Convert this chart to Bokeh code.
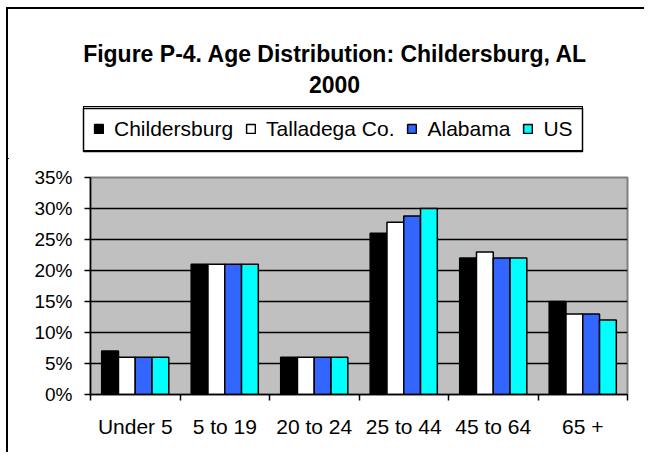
from bokeh.plotting import figure
from bokeh.layouts import column
from bokeh.models import (FixedTicker, Label, Legend, LegendItem, ColumnDataSource,
                          CustomJSTickFormatter, Range1d)
from bokeh.transform import dodge
from bokeh.embed import file_html
from bokeh.resources import INLINE

categories = ["Under 5", "5 to 19", "20 to 24", "25 to 44", "45 to 64", "65 +"]
childersburg = [7, 21, 6, 26, 22, 15]
talladega = [6, 21, 6, 27.8, 23, 13]
alabama = [6, 21, 6, 28.8, 22, 13]
us = [6, 21, 6, 30, 22, 12]
series_names = ["Childersburg", "Talladega Co.", "Alabama", "US"]
series_colors = ["#000000", "#FFFFFF", "#3366FF", "#00FFFF"]
y_ticks = [0, 5, 10, 15, 20, 25, 30, 35]
title_lines = ["Figure P-4. Age Distribution: Childersburg, AL", "2000"]

FONT = "Liberation Sans"
W = 636
TOP_H = 150

centers = [i + 0.5 for i in range(len(categories))]
boundaries = list(range(len(categories) + 1))
source = ColumnDataSource(dict(x=centers, cat=categories, s0=childersburg,
                               s1=talladega, s2=alabama, s3=us))

# ---------------- header (title + legend) ----------------
t = figure(width=W, height=TOP_H, x_range=Range1d(0, W), y_range=Range1d(TOP_H, 0),
           output_backend="svg", toolbar_location=None, title=None,
           x_axis_location=None, y_axis_location=None,
           min_border_left=0, min_border_right=0, min_border_top=0, min_border_bottom=0)
if "frame_align" in t.properties():
    t.frame_align = False
t.grid.visible = False
t.outline_line_color = None
t.background_fill_color = "white"
t.border_fill_color = "white"
# legend proxies live on ranges that keep them off the canvas
t.extra_x_ranges = {"offx": Range1d(1000, 2000)}
t.extra_y_ranges = {"offy": Range1d(1000, 2000)}

for txt, xx, yy in zip(title_lines, [327, 326], [44, 75]):
    t.add_layout(Label(x=xx, y=yy, text=txt, text_align="center",
                       text_baseline="alphabetic", text_font=FONT,
                       text_font_size="23px", text_font_style="bold",
                       text_color="black"))

# legend frame (decoration, in header pixel space)
t.quad(left=[75], right=[574], top=[99], bottom=[142], fill_color="white",
       line_color="black", line_width=1.5)

items = []
for k, (name, col) in enumerate(zip(series_names, series_colors)):
    r = t.vbar(x="x", top="s%d" % k, width=0.2, source=source, fill_color=col,
               line_color="black", line_width=1.5,
               x_range_name="offx", y_range_name="offy")
    items.append(LegendItem(label=name, renderers=[r]))

legend = Legend(items=items, orientation="horizontal", location=(75, 8),
                border_line_color="black", border_line_width=1.5, border_line_alpha=1,
                background_fill_alpha=0,
                padding=9, spacing=12, glyph_width=11, glyph_height=11,
                label_standoff=10, label_height=25, margin=0,
                label_text_font=FONT, label_text_font_size="21px",
                label_text_color="black")
t.add_layout(legend, "center")

# ---------------- main chart ----------------
p = figure(width=W, height=293, x_range=Range1d(0, len(categories)),
           y_range=Range1d(0, 35), output_backend="svg", toolbar_location=None,
           title=None, min_border_left=82, min_border_right=17, min_border_top=18,
           min_border_bottom=58)

p.background_fill_color = "#C0C0C0"
p.border_fill_color = "white"
p.outline_line_color = "#808080"
p.outline_line_width = 2

bw = 0.1875
offsets = [-1.5 * bw, -0.5 * bw, 0.5 * bw, 1.5 * bw]
for k, col in enumerate(series_colors):
    p.vbar(x=dodge("x", offsets[k], range=p.x_range), top="s%d" % k, width=bw,
           source=source, fill_color=col, line_color="black", line_width=1.5)

xa = p.xaxis[0]
xa.ticker = FixedTicker(ticks=centers, minor_ticks=boundaries)
xa.formatter = CustomJSTickFormatter(args=dict(cats=categories),
                                     code="return cats[Math.floor(tick)];")
xa.major_tick_line_color = None
xa.major_tick_out = 6
xa.major_tick_in = 0
xa.minor_tick_in = 0
xa.minor_tick_out = 6
xa.minor_tick_line_color = "black"
xa.minor_tick_line_width = 1.5
xa.axis_line_color = "black"
xa.axis_line_width = 1.5
xa.major_label_standoff = 14
xa.major_label_text_font = FONT
xa.major_label_text_font_size = "21px"
xa.major_label_text_color = "black"

ya = p.yaxis[0]
ya.ticker = FixedTicker(ticks=y_ticks)
ya.formatter = CustomJSTickFormatter(code="return tick + '%';")
ya.minor_tick_line_color = None
ya.major_tick_in = 0
ya.major_tick_out = 6
ya.major_tick_line_color = "black"
ya.major_tick_line_width = 1.5
ya.axis_line_color = "black"
ya.axis_line_width = 1.5
ya.major_label_standoff = 12
ya.major_label_text_font = FONT
ya.major_label_text_font_size = "19px"
ya.major_label_text_color = "black"

p.xgrid.visible = False
p.ygrid.ticker = FixedTicker(ticks=y_ticks)
p.ygrid.grid_line_color = "black"
p.ygrid.grid_line_width = 1.5

layout = column(t, p, spacing=0)
layout.styles = {"border-left": "2px solid black", "border-top": "2px solid black",
                 "margin-left": "6px", "margin-top": "7px"}

open("out.html", "w").write(file_html(layout, INLINE))
